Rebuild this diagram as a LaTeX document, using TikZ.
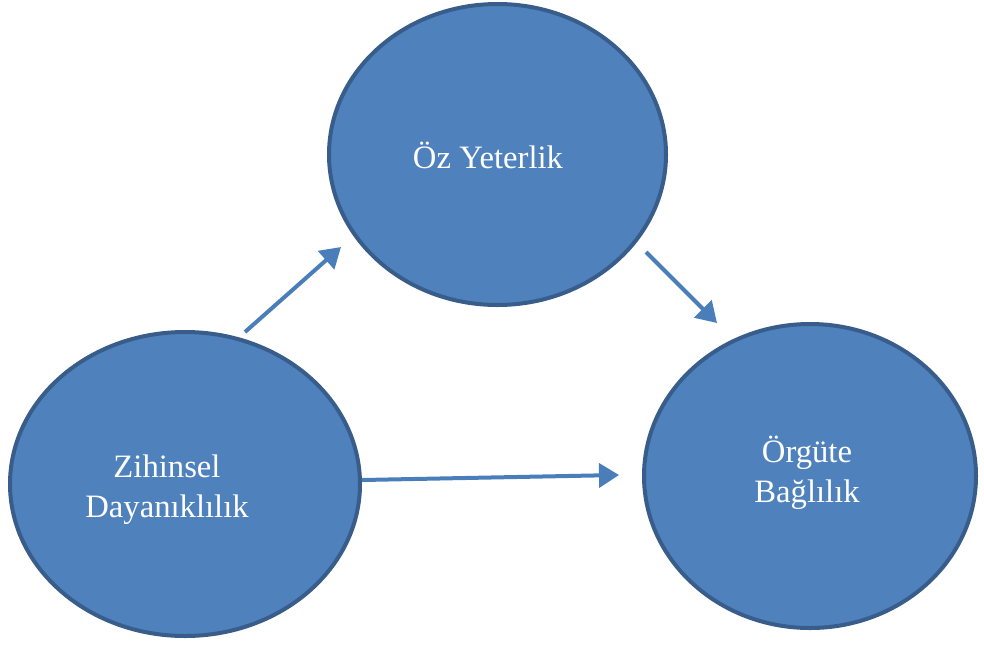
\documentclass[tikz,border=0pt]{standalone}
\usepackage{fontspec}
\setmainfont{Liberation Serif}
\usetikzlibrary{arrows.meta,calc,shapes.geometric}
\definecolor{cfill}{HTML}{4F81BD}
\definecolor{cedge}{HTML}{385D8A}
\definecolor{carrow}{HTML}{4A7EBB}

\begin{document}
\begin{tikzpicture}[x=0.75pt, y=-0.75pt,
    blob/.style={ellipse, draw=cedge, fill=cfill, line width=3pt, inner sep=0pt},
    lab/.style={font=\fontsize{24.5}{30}\selectfont, align=center, text=white},
    pt/.style={-{Triangle[length=15pt, width=18pt]}, carrow, line width=3pt}]
  \useasboundingbox (0,0) rectangle (984,644);
  \node[blob, minimum width=252.75pt, minimum height=225.75pt] (oy) at (497.5,154.5) {};
  \node[blob, minimum width=262.5pt, minimum height=228pt] (zd) at (185,484) {};
  \node[blob, minimum width=249pt, minimum height=228pt] (ob) at (810,476) {};

  \node[lab] (loy) at (488,155) {Öz Yeterlik};
  \node[lab] (lzd) at (167,490) {Zihinsel\\Dayanıklılık};
  \node[lab] (lob) at (807,473) {Örgüte\\Bağlılık};

  % arrow ends, off the borders
  \coordinate (a1) at (245,332);
  \coordinate (b1) at (341,247);
  \coordinate (a2) at (646,252);
  \coordinate (b2) at (717,323);
  \coordinate (a3) at (362,480);
  \coordinate (b3) at (619,475);
  \draw[pt] (a1) -- (b1);
  \draw[pt] (a2) -- (b2);
  \draw[pt] (a3) -- (b3);
\end{tikzpicture}
\end{document}
